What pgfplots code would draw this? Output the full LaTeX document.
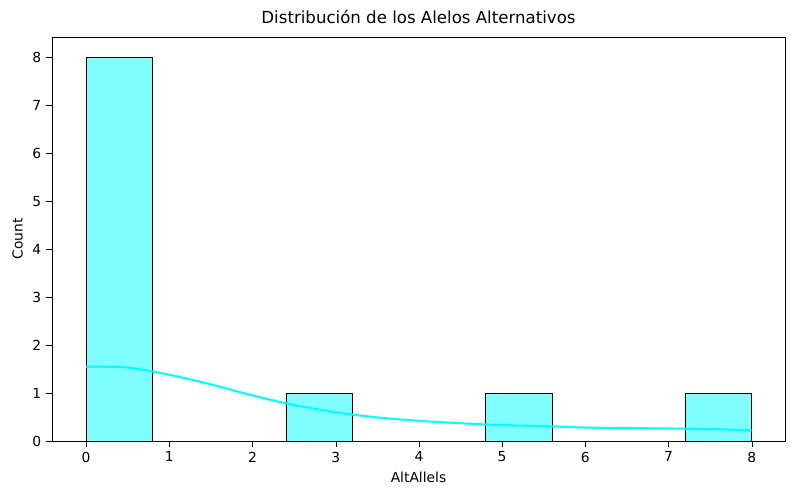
\documentclass[border=0pt]{standalone}
\usepackage{pgfplots}
\pgfplotsset{compat=1.18}
\usepackage{fontspec}
\setmainfont{DejaVu Sans}
\definecolor{cy}{RGB}{0,255,255}
\definecolor{cyf}{RGB}{127,255,255}
\begin{document}
\begin{tikzpicture}[font=\fontsize{10}{12}\selectfont]
\path[use as bounding box] (-0.52in,-0.59in) rectangle (7.48in,4.41in);
\begin{axis}[
  at={(0,0)}, anchor=south west,
  width=7.33in, height=4.04in, scale only axis,
  xmin=-0.41, xmax=8.4, ymin=0, ymax=8.42,
  xtick={0,...,8}, ytick={0,...,8},
  tick align=outside, tick style={black},
  xtick pos=bottom, ytick pos=left,
  /pgf/number format/assume math mode=true,
  xlabel={AltAllels}, ylabel={Count},
  title={\fontsize{12}{14}\selectfont Distribución de los Alelos Alternativos},
  axis line style={black},
]
\addplot[ybar interval, fill=cyf, draw=black] coordinates {
(0,8) (0.8,0) (1.6,0) (2.4,1) (3.2,0) (4.0,0) (4.8,1) (5.6,0) (6.4,0) (7.2,1) (8.0,1)};
\addplot[cy, line width=1.5pt, smooth] coordinates {
(0,1.55) (0.5,1.53) (1,1.38) (1.5,1.18) (2,0.95) (2.5,0.75) (3,0.6) (3.5,0.49) (4,0.42) (4.5,0.37) (5,0.33) (5.5,0.31) (6,0.28) (6.5,0.27) (7,0.26) (7.5,0.25) (8,0.22)};
\end{axis}
\end{tikzpicture}
\end{document}
